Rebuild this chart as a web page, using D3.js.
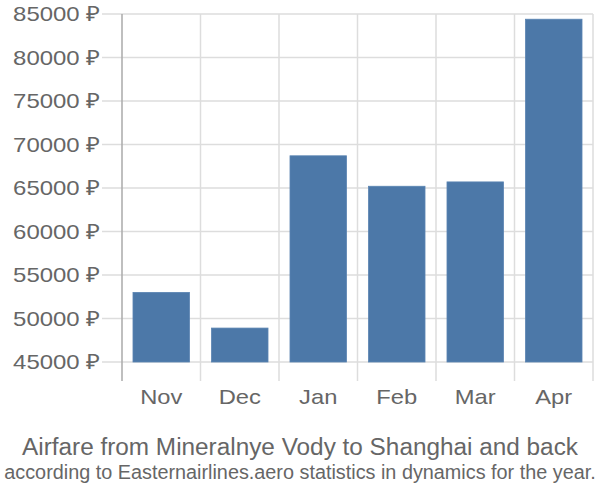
<!DOCTYPE html>
<html><head><meta charset="utf-8">
<script src="https://cdn.jsdelivr.net/npm/d3@7"></script>
<style>body{margin:0;background:#fff}svg{display:block;font-family:"Liberation Sans",Arial,sans-serif}</style>
</head><body><svg id="c" width="600" height="500"></svg>
<script>
const months = ["Nov","Dec","Jan","Feb","Mar","Apr"];
const prices = [53000,48900,68700,65200,65700,84400];
const yTicks = [45000,50000,55000,60000,65000,70000,75000,80000,85000];
const title = "Airfare from Mineralnye Vody to Shanghai and back";
const subtitle = "according to Easternairlines.aero statistics in dynamics for the year.";

(function () {
const svg = d3.select("#c");
const pLeft = 122, pRight = 593, pTop = 14, pBase = 362, pBottom = 381;
const x = d3.scaleBand().domain(months).range([pLeft, pRight]).paddingInner(0.28).paddingOuter(0.14);
const y = d3.scaleLinear().domain([45000, 85000]).range([pBase, pTop]);

function stretch(sel, k) {
  sel.each(function () {
    const w = this.getComputedTextLength();
    d3.select(this).attr("textLength", w * k).attr("lengthAdjust", "spacingAndGlyphs");
  });
}

svg.append("g").selectAll("line").data(yTicks).join("line")
  .attr("x1", 102).attr("x2", pRight).attr("y1", d => y(d)).attr("y2", d => y(d))
  .attr("stroke", "#ddd").attr("stroke-width", 1.5);
const vx = d3.range(1, months.length + 1).map(i => pLeft + i * (pRight - pLeft) / months.length);
svg.append("g").selectAll("line").data(vx).join("line")
  .attr("x1", d => d).attr("x2", d => d).attr("y1", pTop).attr("y2", pBottom)
  .attr("stroke", "#ddd").attr("stroke-width", 1.5);
svg.append("line").attr("x1", pLeft).attr("x2", pLeft).attr("y1", pTop).attr("y2", pBottom)
  .attr("stroke", "#aaa").attr("stroke-width", 1.5);

svg.append("g").selectAll("rect").data(prices).join("rect")
  .attr("x", (d, i) => x(months[i])).attr("width", x.bandwidth())
  .attr("y", d => y(d)).attr("height", d => pBase - y(d))
  .attr("fill", "#4c78a8").attr("stroke", "#5a84b2").attr("stroke-width", 0.8);

svg.append("g").selectAll("text").data(yTicks).join("text")
  .attr("x", 100).attr("y", d => y(d) + 7)
  .attr("text-anchor", "end").attr("fill", "#666").attr("font-size", 21)
  .text(d => d + " ₽").call(stretch, 1.14);
svg.append("g").selectAll("text").data(months).join("text")
  .attr("x", d => x(d) + x.bandwidth() / 2).attr("y", 404)
  .attr("text-anchor", "middle").attr("fill", "#666").attr("font-size", 21)
  .text(d => d).call(stretch, 1.13);

svg.append("text").attr("x", 300).attr("y", 455).attr("text-anchor", "middle")
  .attr("fill", "#666").attr("font-size", 23.5).attr("textLength", 556).attr("lengthAdjust", "spacingAndGlyphs").text(title);
const sub = svg.append("text").attr("x", 0).attr("y", 0).attr("text-anchor", "middle")
  .attr("fill", "#666").attr("font-size", 17).text(subtitle);
const sw = sub.node().getComputedTextLength();
sub.attr("transform", `translate(300,479) scale(${592 / sw},${21 / 17})`);
})();
</script></body></html>
